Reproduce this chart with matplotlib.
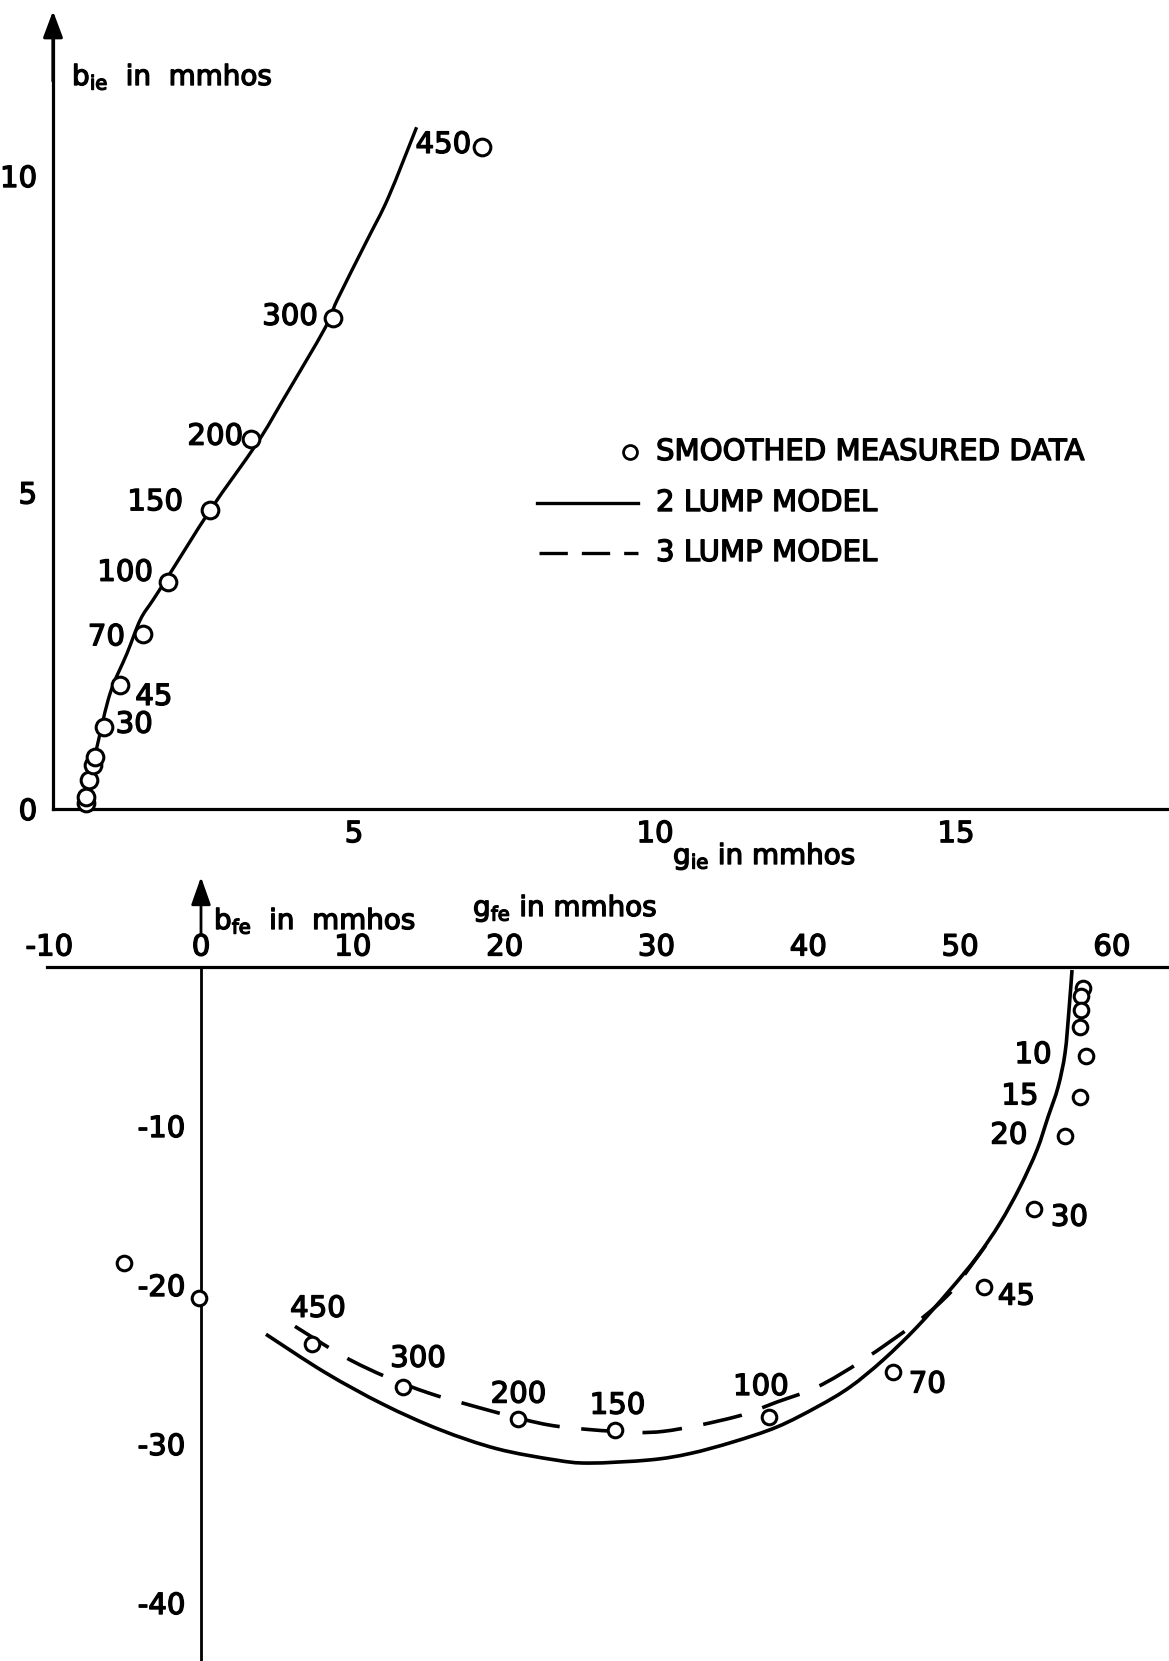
import matplotlib
matplotlib.use("Agg")
import matplotlib.pyplot as plt
import matplotlib.patheffects as pe
from matplotlib.lines import Line2D
from matplotlib.path import Path
from matplotlib.patches import PathPatch
from matplotlib.transforms import Affine2D
import numpy as np

# ---------------- data ----------------
# upper chart: input admittance (g_ie, b_ie) in mmhos, labelled by frequency
g_ie = [0.55, 0.55, 0.60, 0.67, 0.70, 0.85, 1.11, 1.50, 1.91, 2.61, 3.29, 4.65, 7.13]
b_ie = [0.09, 0.19, 0.46, 0.70, 0.82, 1.30, 1.96, 2.76, 3.59, 4.72, 5.85, 7.76, 10.46]
lab_ie = ["", "", "", "", "", "30", "45", "70", "100", "150", "200", "300", "450"]

g_ie_2lump = [0.53, 0.73, 0.95, 1.23, 1.45, 1.66, 1.91, 2.61, 3.39, 3.82, 4.52, 4.72, 5.22, 5.57, 6.04]
b_ie_2lump = [0.14, 0.98, 1.83, 2.46, 2.99, 3.30, 3.67, 4.72, 5.78, 6.46, 7.60, 8.04, 8.99, 9.66, 10.77]

# lower chart: forward admittance (g_fe, b_fe) in mmhos
g_fe = [58.1, 58.0, 58.0, 57.9, 58.3, 57.9, 56.9, 54.9, 51.6, 45.6, 37.4, 27.3, 20.9, 13.3, 7.3, -0.1, -5.1]
b_fe = [-1.3, -1.8, -2.7, -3.8, -5.6, -8.2, -10.6, -15.2, -20.1, -25.5, -28.3, -29.1, -28.4, -26.4, -23.7, -20.8, -18.6]
lab_fe = ["", "", "", "", "10", "15", "20", "30", "45", "70", "100", "150", "200", "300", "450", "", ""]

g_fe_2lump = [4.28, 8.17, 11.99, 15.74, 19.50, 23.32, 25.56, 29.58, 32.21, 35.05, 37.94, 40.58,
              42.75, 44.93, 47.17, 49.34, 51.12, 52.64, 53.95, 55.07, 55.80, 56.46, 56.92, 57.18, 57.38]
b_fe_2lump = [-23.1, -25.5, -27.5, -29.1, -30.3, -31.0, -31.2, -31.0, -30.6, -29.87, -28.93, -27.67,
              -26.42, -24.72, -22.64, -20.31, -18.24, -16.10, -13.84, -11.51, -9.43, -7.55, -5.41, -2.70, -0.19]

g_fe_3lump = [6.19, 9.42, 12.25, 15.02, 17.52, 21.01, 23.58, 27.27, 30.5, 35.18, 37.94, 40.58,
              43.61, 47.17, 49.34, 50.66, 51.7]
b_fe_3lump = [-22.6, -24.5, -25.8, -26.8, -27.5, -28.4, -28.9, -29.2, -29.2, -28.3, -27.36, -26.42,
              -24.72, -22.33, -20.5, -18.87, -17.5]

ie_xticks = [5, 10, 15]
ie_yticks = [0, 5, 10]
fe_xticks = [-10, 0, 10, 20, 30, 40, 50, 60]
fe_yticks = [-10, -20, -30, -40]
legend_labels = ["SMOOTHED MEASURED DATA", "2 LUMP MODEL", "3 LUMP MODEL"]

# ---------------- layout / style ----------------
W, H = 1169, 1661
FS = 21
FS_T = 20
FAM = ["DejaVu Sans Condensed", "DejaVu Sans"]
plt.rcParams["font.family"] = FAM
plt.rcParams["mathtext.fontset"] = "custom"
plt.rcParams["mathtext.rm"] = "DejaVu Sans Condensed"
plt.rcParams["mathtext.it"] = "DejaVu Sans Condensed"
plt.rcParams["mathtext.default"] = "rm"
THICK = [pe.withStroke(linewidth=1.0, foreground="black")]

# label offsets in pixels (dx right, dy up) relative to each point
off_ie = {"30": (30, 2), "45": (34, -12), "70": (-37, -3), "100": (-43, 9), "150": (-55, 8),
          "200": (-36, 2), "300": (-43, 1), "450": (-39, 2)}
off_fe = {"10": (-53, 1), "15": (-60, 1), "20": (-56, 0), "30": (35, -9), "45": (32, -10),
          "70": (34, -12), "100": (-8, 30), "150": (2, 24), "200": (0, 24), "300": (15, 28),
          "450": (6, 35)}


def smooth_path(xs, ys):
    """Catmull-Rom curve through the read points, as cubic Bezier segments."""
    p = np.column_stack([xs, ys]).astype(float)
    ext = np.vstack([p[0], p, p[-1]])
    verts = [p[0]]
    codes = [Path.MOVETO]
    for i in range(len(p) - 1):
        p0, p1, p2, p3 = ext[i], ext[i + 1], ext[i + 2], ext[i + 3]
        verts += [p1 + (p2 - p0) / 6.0, p2 - (p3 - p1) / 6.0, p2]
        codes += [Path.CURVE4] * 3
    return Path(verts, codes)


fig = plt.figure(figsize=(W / 100, H / 100), dpi=100)
pix = Affine2D().scale(1.0 / W, -1.0 / H).translate(0, 1) + fig.transFigure

# ---------- upper chart ----------
x0, sx, y0, sy = 53, 60.2, 809, 63.3   # pixel origin and pixels per unit
split = 860
ax1 = fig.add_axes([0, (H - split) / H, 1, split / H])
ax1.set_xlim(-x0 / sx, (W - x0) / sx)
ax1.set_ylim((y0 - split) / sy, y0 / sy)
ax1.patch.set_alpha(0)
for s in ["top", "right"]:
    ax1.spines[s].set_visible(False)
ax1.spines["left"].set_position(("data", 0))
ax1.spines["bottom"].set_position(("data", 0))
ax1.spines["left"].set_bounds(0, 12.2)
ax1.spines["bottom"].set_bounds(0, (W - x0) / sx)
for s in ["left", "bottom"]:
    ax1.spines[s].set_linewidth(2.3)
ax1.set_xticks(ie_xticks)
ax1.set_yticks(ie_yticks)
ax1.tick_params(axis="both", length=0, labelsize=FS)
ax1.tick_params(axis="y", pad=11.5)
ax1.tick_params(axis="x", pad=8)
ax1.annotate("", xy=(0, (y0 - 11) / sy), xytext=(0, 11.5),
             arrowprops=dict(arrowstyle="-|>,head_length=0.8,head_width=0.3", lw=2.3,
                             color="black", mutation_scale=20, shrinkA=0, shrinkB=0))

ax1.add_patch(PathPatch(smooth_path(g_ie_2lump, b_ie_2lump), fill=False, edgecolor="black",
                        lw=2.4, capstyle="butt", zorder=2))
ax1.plot(g_ie, b_ie, "o", ms=12, mfc="white", mec="black", mew=2.2, zorder=3, clip_on=False)
for g, b, t in zip(g_ie, b_ie, lab_ie):
    if t:
        dx, dy = off_ie[t]
        ax1.annotate(t, xy=(g, b), xytext=(dx * 0.72, dy * 0.72), textcoords="offset points",
                     ha="center", va="center", fontsize=FS, path_effects=THICK)

# ---------- lower chart ----------
X0, SX, Y0, SY = 201, 15.18, 967, 15.9
ax2 = fig.add_axes([0, 0, 1, (H - split) / H])
ax2.set_xlim(-X0 / SX, (W - X0) / SX)
ax2.set_ylim(-(H - Y0) / SY, (Y0 - split) / SY)
ax2.patch.set_alpha(0)
for s in ["bottom", "right"]:
    ax2.spines[s].set_visible(False)
ax2.spines["left"].set_position(("data", 0))
ax2.spines["top"].set_position(("data", 0))
ax2.spines["left"].set_bounds(-(H - Y0) / SY, 0)
ax2.spines["top"].set_bounds((47 - X0) / SX, (W - X0) / SX)
ax2.spines["left"].set_linewidth(2.0)
ax2.spines["top"].set_linewidth(2.3)
ax2.xaxis.tick_top()
ax2.set_xticks(fe_xticks)
ax2.set_yticks(fe_yticks)
ax2.set_yticklabels(["-" + str(-v) for v in fe_yticks])
ax2.set_xticklabels([("-" + str(-v)) if v < 0 else str(v) for v in fe_xticks])
ax2.tick_params(axis="both", length=0, labelsize=FS)
ax2.tick_params(axis="y", pad=11.5)
ax2.tick_params(axis="x", pad=4)
ax2.annotate("", xy=(0, (Y0 - 877) / SY), xytext=(0, (Y0 - 934) / SY),
             arrowprops=dict(arrowstyle="-|>,head_length=0.85,head_width=0.3", lw=2.0,
                             color="black", mutation_scale=20, shrinkA=0, shrinkB=0))

ax2.add_patch(PathPatch(smooth_path(g_fe_2lump, b_fe_2lump), fill=False, edgecolor="black",
                        lw=2.6, zorder=2))
ax2.add_patch(PathPatch(smooth_path(g_fe_3lump, b_fe_3lump), fill=False, edgecolor="black",
                        lw=2.6, linestyle=(0, (11, 6)), zorder=2))
ax2.plot(g_fe, b_fe, "o", ms=10.5, mfc="white", mec="black", mew=2.2, zorder=3, clip_on=False)
for g, b, t in zip(g_fe, b_fe, lab_fe):
    if t:
        dx, dy = off_fe[t]
        ax2.annotate(t, xy=(g, b), xytext=(dx * 0.72, dy * 0.72), textcoords="offset points",
                     ha="center", va="center", fontsize=FS, path_effects=THICK)

for lab in ax1.get_xticklabels() + ax1.get_yticklabels() + ax2.get_xticklabels() + ax2.get_yticklabels():
    lab.set_path_effects(THICK)

# ---------- axis titles ----------
for (px_, py_, s) in [(72, 85, r"$\mathrm{b}_{\mathrm{ie}}$  in  mmhos"),
                      (673, 864, r"$\mathrm{g}_{\mathrm{ie}}$ in mmhos"),
                      (214, 929, r"$\mathrm{b}_{\mathrm{fe}}$  in  mmhos"),
                      (473, 916, r"$\mathrm{g}_{\mathrm{fe}}$ in mmhos")]:
    fig.text(px_, py_, s, transform=pix, fontsize=FS_T, ha="left", va="baseline",
             path_effects=THICK)

# ---------- legend ----------
fig.add_artist(Line2D([630], [452], marker="o", ms=10, mfc="white", mec="black", mew=2.0,
                      transform=pix))
fig.add_artist(Line2D([537, 638], [503, 503], color="black", lw=2.4, transform=pix))
fig.add_artist(Line2D([539, 638], [553, 553], color="black", lw=2.4, dashes=(8.5, 4.2),
                      transform=pix))
for yy, t in zip([452, 503, 553], legend_labels):
    fig.text(656, yy, t, transform=pix, fontsize=FS, ha="left", va="center",
             path_effects=THICK)

fig.savefig("out.png", dpi=100, facecolor="white")
